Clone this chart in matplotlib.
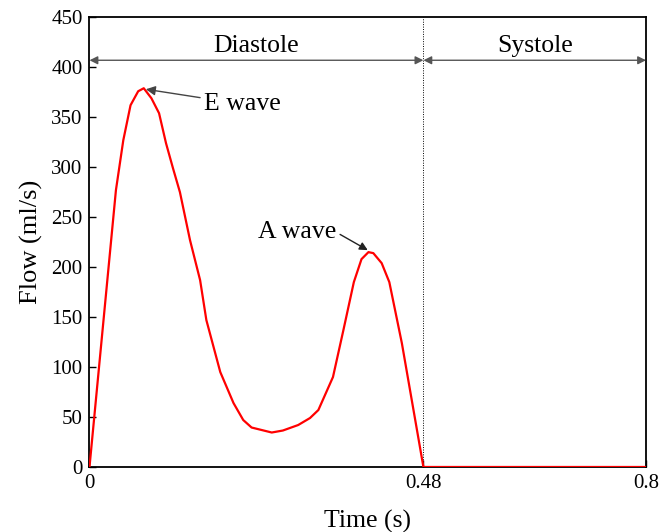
import matplotlib
matplotlib.use("Agg")
import matplotlib.pyplot as plt

time_s = [0.0, 0.038, 0.0486, 0.059, 0.070, 0.078, 0.089, 0.100, 0.110, 0.120, 0.130,
          0.1445, 0.159, 0.168, 0.188, 0.207, 0.221, 0.233, 0.262, 0.278, 0.300, 0.317,
          0.329, 0.350, 0.365, 0.380, 0.391, 0.401, 0.408, 0.420, 0.431, 0.449, 0.48, 0.8]
flow = [0, 277, 327, 362, 376, 379, 369, 354, 324, 299, 275,
        227, 187, 147, 95, 64, 47, 39.5, 34.5, 36.5, 42, 49,
        57, 90, 137, 185, 208, 215, 214, 204, 185, 124, 0, 0]

phase_labels = ["Diastole", "Systole"]
phase_bounds = [0.0, 0.48, 0.8]
xticks = [0, 0.48, 0.8]
xtick_labels = ["0", "0.48", "0.8"]
yticks = list(range(0, 451, 50))

plt.rcParams['font.family'] = ['Liberation Serif', 'DejaVu Serif']

fig = plt.figure(figsize=(6.59, 5.32), dpi=100)
ax = fig.add_axes([0.1358, 0.1222, 0.9803 - 0.1358, 0.9675 - 0.1222])

ax.plot(time_s, flow, color='red', lw=1.6, zorder=3)
ax.axvline(phase_bounds[1], color='black', lw=0.7, ls=(0, (1, 1.5)), zorder=2)

ax.set_xlim(0, 0.8)
ax.set_ylim(0, 450)
ax.set_xticks(xticks)
ax.set_xticklabels(xtick_labels)
ax.set_yticks(yticks)
ax.tick_params(direction='in', labelsize=15, length=5, width=1, top=False, right=False, pad=5)
for s in ax.spines.values():
    s.set_linewidth(1.3)

ax.set_xlabel("Time (s)", fontsize=18.5, labelpad=12)
ax.set_ylabel("Flow (ml/s)", fontsize=19, labelpad=6)

arrow_y = 407
for i, lab in enumerate(phase_labels):
    x0, x1 = phase_bounds[i], phase_bounds[i + 1]
    ax.annotate("", xy=(x1, arrow_y), xytext=(x0, arrow_y),
                arrowprops=dict(arrowstyle='<|-|>', color='#555555', lw=1.0,
                                mutation_scale=12, shrinkA=0, shrinkB=0,
                                facecolor='black'))
    ax.text((x0 + x1) / 2, 421, lab, ha='center', va='center', fontsize=18.5)

ax.annotate("E wave", xy=(0.081, 378), xytext=(0.165, 363),
            ha='left', va='center', fontsize=18.5,
            arrowprops=dict(arrowstyle='-|>', color='#444444', lw=1.0,
                            mutation_scale=14, shrinkA=1, shrinkB=0))
ax.annotate("A wave", xy=(0.400, 217), xytext=(0.242, 235),
            ha='left', va='center', fontsize=18.5,
            arrowprops=dict(arrowstyle='-|>', color='#222222', lw=1.0,
                            mutation_scale=12, shrinkA=1, shrinkB=0,
                            relpos=(1.0, 0.5)))

fig.savefig("out.png", dpi=100)
